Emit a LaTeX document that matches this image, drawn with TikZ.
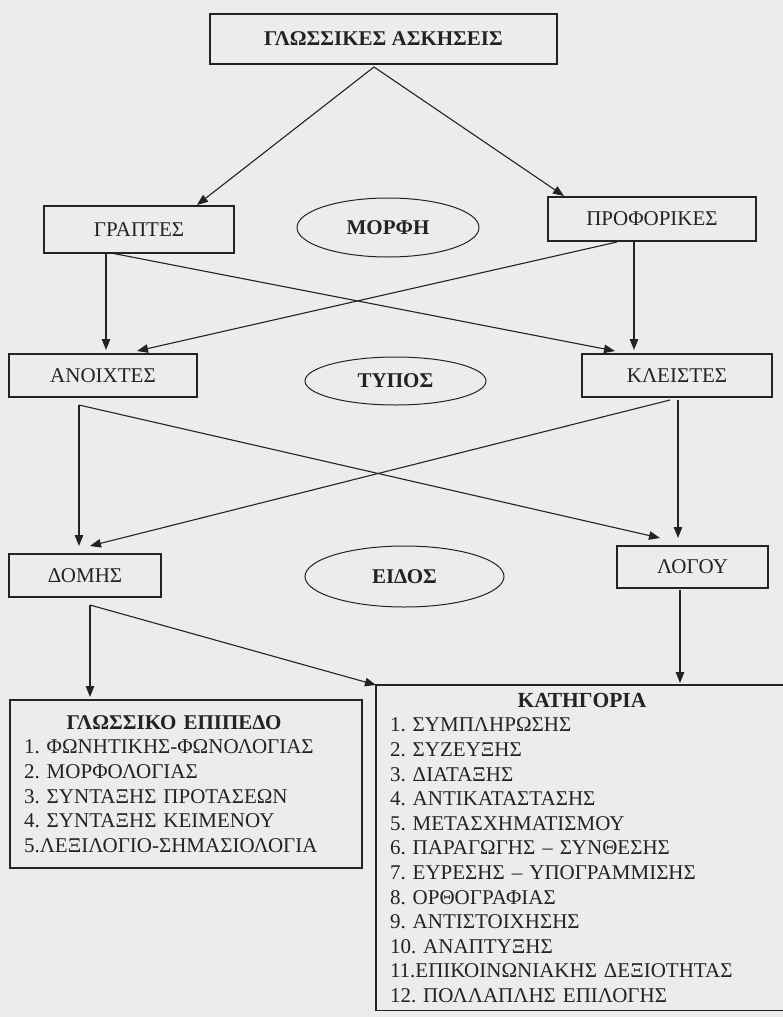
\documentclass[tikz,border=0pt]{standalone}
\usepackage{fontspec}
\setmainfont{Liberation Serif}
\usetikzlibrary{arrows.meta,positioning,shapes.geometric}

\definecolor{paper}{RGB}{236,236,236}
\definecolor{ink}{RGB}{35,35,35}
\newcommand{\txtsize}{\fontsize{21}{24.6}\selectfont}
\frenchspacing

\tikzset{
  box/.style={draw, line width=1.3pt, inner sep=0pt, outer sep=0pt, font=\txtsize},
  oval/.style={draw, ellipse, line width=1pt, inner sep=0pt, outer sep=0pt, font=\txtsize\bfseries},
  listbox/.style={box, anchor=north west, align=left, inner xsep=14pt, inner ysep=8pt},
  arr/.style={->, line width=1.1pt}
}

\begin{document}
\begin{tikzpicture}[x=1pt, y=-1pt, color=ink, >={Triangle[length=11pt,width=8.5pt]}]
  \clip (0,0) rectangle (783,1017);
  \fill[paper] (0,0) rectangle (783,1017);

  % top
  \node[box, minimum width=347pt, minimum height=50pt, font=\txtsize\bfseries] (ask) at (383.5,39) {ΓΛΩΣΣΙΚΕΣ ΑΣΚΗΣΕΙΣ};

  % form
  \node[box, minimum width=190pt, minimum height=47pt] (grap) at (139,229.5) {ΓΡΑΠΤΕΣ};
  \node[oval, minimum width=182pt, minimum height=59pt] (morfi) at (388,227.5) {ΜΟΡΦΗ};
  \node[box, minimum width=208pt, minimum height=44pt] (prof) at (652,219) {ΠΡΟΦΟΡΙΚΕΣ};

  % type
  \node[box, minimum width=188pt, minimum height=43pt] (anoi) at (103,375.5) {ΑΝΟΙΧΤΕΣ};
  \node[oval, minimum width=181pt, minimum height=48pt] (typos) at (395.5,381) {ΤΥΠΟΣ};
  \node[box, minimum width=190pt, minimum height=43pt] (kleis) at (677,375.5) {ΚΛΕΙΣΤΕΣ};

  % kind
  \node[box, minimum width=152pt, minimum height=43pt] (domis) at (85,575.5) {ΔΟΜΗΣ};
  \node[oval, minimum width=199pt, minimum height=61pt] (eidos) at (404.5,576.5) {ΕΙΔΟΣ};
  \node[box, minimum width=151pt, minimum height=42pt] (logou) at (692.5,567) {ΛΟΓΟΥ};

  % lists
  \node[listbox, text width=324pt, minimum height=168pt] (glep) at (10,700)
    {{\centering\textbf{ΓΛΩΣΣΙΚΟ ΕΠΙΠΕΔΟ}\hspace*{24pt}\par}
     1. ΦΩΝΗΤΙΚΗΣ-ΦΩΝΟΛΟΓΙΑΣ\\
     2. ΜΟΡΦΟΛΟΓΙΑΣ\\
     3. ΣΥΝΤΑΞΗΣ ΠΡΟΤΑΣΕΩΝ\\
     4. ΣΥΝΤΑΞΗΣ ΚΕΙΜΕΝΟΥ\\
     5.ΛΕΞΙΛΟΓΙΟ-ΣΗΜΑΣΙΟΛΟΓΙΑ};
  \node[listbox, text width=384pt] (kat) at (376,685)
    {{\centering\fontsize{21.5}{24.6}\selectfont\textbf{ΚΑΤΗΓΟΡΙΑ}\par}
     1. ΣΥΜΠΛΗΡΩΣΗΣ\\
     2. ΣΥΖΕΥΞΗΣ\\
     3. ΔΙΑΤΑΞΗΣ\\
     4. ΑΝΤΙΚΑΤΑΣΤΑΣΗΣ\\
     5. ΜΕΤΑΣΧΗΜΑΤΙΣΜΟΥ\\
     6. ΠΑΡΑΓΩΓΗΣ – ΣΥΝΘΕΣΗΣ\\
     7. ΕΥΡΕΣΗΣ – ΥΠΟΓΡΑΜΜΙΣΗΣ\\
     8. ΟΡΘΟΓΡΑΦΙΑΣ\\
     9. ΑΝΤΙΣΤΟΙΧΗΣΗΣ\\
     10. ΑΝΑΠΤΥΞΗΣ\\
     11.ΕΠΙΚΟΙΝΩΝΙΑΚΗΣ ΔΕΞΙΟΤΗΤΑΣ\\
     12. ΠΟΛΛΑΠΛΗΣ ΕΠΙΛΟΓΗΣ};

  % arrows
  \draw[arr] ([shift={(-9.5,3)}]ask.south) -- ([shift={(58,-1)}]grap.north);
  \draw[arr] ([shift={(-9.5,3)}]ask.south) -- ([shift={(-88,-1)}]prof.north);
  \draw[arr] ([shift={(-33,0)}]grap.south) -- ([shift={(3,-4)}]anoi.north);
  \draw[arr] ([shift={(-28,0)}]grap.south) -- ([shift={(-62,-3)}]kleis.north);
  \draw[arr] ([shift={(-35,1)}]prof.south) -- ([shift={(34,-3)}]anoi.north);
  \draw[arr] ([shift={(-18,0)}]prof.south) -- ([shift={(-43,-4)}]kleis.north);
  \draw[arr] ([shift={(-24,8)}]anoi.south) -- ([shift={(-6,-8)}]domis.north);
  \draw[arr] ([shift={(-24,8)}]anoi.south) -- ([shift={(-32.5,-8)}]logou.north);
  \draw[arr] ([shift={(-7,3)}]kleis.south) -- ([shift={(5,-8)}]domis.north);
  \draw[arr] ([shift={(1,3)}]kleis.south) -- ([shift={(-14.5,-8)}]logou.north);
  \draw[arr] ([shift={(5,8)}]domis.south) -- ([shift={(-96,-3)}]glep.north);
  \draw[arr] ([shift={(5,8)}]domis.south) -- (kat.north west);
  \draw[arr] ([shift={(-12.5,2)}]logou.south) -- ([shift={(304,-2)}]kat.north west);
\end{tikzpicture}
\end{document}
